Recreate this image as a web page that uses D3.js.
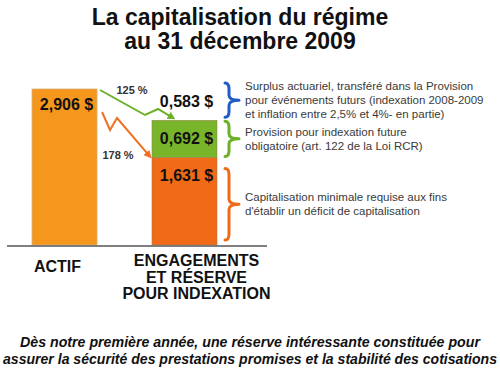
<!DOCTYPE html>
<html>
<head>
<meta charset="utf-8">
<script src="https://cdn.jsdelivr.net/npm/d3@7"></script>
<style>
  body { margin: 0; background: #fff; }
  svg { display: block; font-family: "Liberation Sans", Arial, sans-serif; }
</style>
</head>
<body>
<div id="chart-area"></div>
<script>
// data
var categories = ["ACTIF", "ENGAGEMENTS"];
var actifValue = 2.906;
var actifLabel = "2,906 $";
var segNames = ["minimale", "provision", "surplus"];
var segValues = [1.631, 0.692, 0.583];
var segLabels = ["1,631 $", "0,692 $", "0,583 $"];
var ratioLabels = ["125 %", "178 %"];
var titleLines = ["La capitalisation du régime", "au 31 décembre 2009"];
var catLines = [["ACTIF"], ["ENGAGEMENTS", "ET RÉSERVE", "POUR INDEXATION"]];
var noteLines = [
  ["Capitalisation minimale requise aux fins", "d'établir un déficit de capitalisation"],
  ["Provision pour indexation future", "obligatoire (art. 122 de la Loi RCR)"],
  ["Surplus actuariel, transféré dans la Provision", "pour événements futurs (indexation 2008-2009", "et inflation entre 2,5% et 4%- en partie)"]
];
var footerLines = [
  "Dès notre première année, une réserve intéressante constituée pour",
  "assurer la sécurité des prestations promises et la stabilité des cotisations"
];

var width = 500, height = 379;
var segColors = ["#f06a18", "#79b52a", "none"];
var braceColors = ["#f06a18", "#6cb02a", "#1f5cc8"];
var footerWidths = [460, 494];

var svg = d3.select("#chart-area").append("svg")
  .attr("width", width)
  .attr("height", height);

var x = d3.scaleBand().domain(categories).range([32, 217]).paddingInner(0.458).paddingOuter(0);
var y = d3.scaleLinear().domain([0, actifValue]).range([245, 89]);

// title
svg.append("g").selectAll("text")
  .data(titleLines).enter().append("text")
  .attr("x", 240)
  .attr("y", (d, i) => 25 + i * 24)
  .attr("text-anchor", "middle")
  .attr("font-size", "23px")
  .attr("font-weight", "bold")
  .attr("fill", "#111")
  .text(d => d);

// stacked segments
var stackData = [];
var acc = 0;
segValues.forEach((v, i) => {
  stackData.push({ name: segNames[i], v0: acc, v1: acc + v, label: segLabels[i], color: segColors[i] });
  acc += v;
});

// actif bar
svg.append("rect")
  .attr("x", x("ACTIF"))
  .attr("y", y(actifValue))
  .attr("width", x.bandwidth())
  .attr("height", y(0) - y(actifValue))
  .attr("fill", "#f5971c")
  .attr("stroke", "#d9b27a")
  .attr("stroke-width", 0.8);

svg.append("text")
  .attr("x", x("ACTIF") + x.bandwidth() / 2 + 2)
  .attr("y", y(actifValue) + 21)
  .attr("text-anchor", "middle")
  .attr("font-size", "16px")
  .attr("font-weight", "bold")
  .attr("fill", "#111")
  .text(actifLabel);

svg.append("g").selectAll("rect")
  .data(stackData.filter(d => d.color !== "none")).enter().append("rect")
  .attr("x", x("ENGAGEMENTS"))
  .attr("y", d => y(d.v1))
  .attr("width", x.bandwidth())
  .attr("height", d => y(d.v0) - y(d.v1))
  .attr("fill", d => d.color)
  .attr("stroke", "#9a7a55")
  .attr("stroke-width", 0.5);

svg.append("g").selectAll("text")
  .data(stackData).enter().append("text")
  .attr("x", x("ENGAGEMENTS") + x.bandwidth() / 2 + 2)
  .attr("y", (d, i) => i === 2 ? y(d.v1) + 18 : y(d.v1) + 24)
  .attr("text-anchor", "middle")
  .attr("font-size", "16px")
  .attr("font-weight", "bold")
  .attr("fill", "#111")
  .text(d => d.label);

// baseline
svg.append("line")
  .attr("x1", 7).attr("x2", 267)
  .attr("y1", y(0) + 1).attr("y2", y(0) + 1)
  .attr("stroke", "#555")
  .attr("stroke-width", 1.5);

// category labels
var catG = svg.append("g").selectAll("g")
  .data(categories).enter().append("g");
catG.selectAll("text")
  .data((d, i) => catLines[i].map(t => ({ t: t, c: d, n: catLines[i].length })))
  .enter().append("text")
  .attr("x", d => x(d.c) + x.bandwidth() / 2 + (d.n > 1 ? 12 : -7))
  .attr("y", (d, i) => (d.n > 1 ? 266 : 272) + i * 16.5)
  .attr("text-anchor", "middle")
  .attr("font-size", "16px")
  .attr("font-weight", "bold")
  .attr("fill", "#111")
  .text(d => d.t);

// arrows
var defs = svg.append("defs");
[["g", "#6cb02a"], ["o", "#f07020"]].forEach(function(m) {
  defs.append("marker")
    .attr("id", "head-" + m[0])
    .attr("viewBox", "0 0 10 10")
    .attr("refX", 5).attr("refY", 5)
    .attr("markerWidth", 4).attr("markerHeight", 4)
    .attr("orient", "auto")
    .append("path")
    .attr("d", "M0,0 L10,5 L0,10 z")
    .attr("fill", m[1]);
});

var ax = x("ACTIF") + x.bandwidth();
var ex = x("ENGAGEMENTS");
var lineGen = d3.line();
var total2 = segValues[0] + segValues[1];

var greenPts = [[ax + 3, y(actifValue) + 1], [ax + 48, y(actifValue) + 26], [ax + 61, y(actifValue) + 20], [ex + 20, y(total2) - 3]];
var orangePts = [[ax + 5, y(actifValue) + 23], [ax + 13, y(actifValue) + 41], [ax + 20, y(actifValue) + 29], [ex - 3, y(segValues[0]) - 2]];

svg.append("path")
  .attr("d", lineGen(greenPts))
  .attr("fill", "none")
  .attr("stroke", "#6cb02a")
  .attr("stroke-width", 2)
  .attr("marker-end", "url(#head-g)");
svg.append("path")
  .attr("d", lineGen(orangePts))
  .attr("fill", "none")
  .attr("stroke", "#f07020")
  .attr("stroke-width", 2)
  .attr("marker-end", "url(#head-o)");

svg.append("text")
  .attr("x", ax + 35).attr("y", y(actifValue) + 5)
  .attr("text-anchor", "middle")
  .attr("font-size", "11px").attr("font-weight", "bold").attr("fill", "#333")
  .text(ratioLabels[0]);
svg.append("text")
  .attr("x", ax + 21).attr("y", y(actifValue) + 70)
  .attr("text-anchor", "middle")
  .attr("font-size", "11px").attr("font-weight", "bold").attr("fill", "#333")
  .text(ratioLabels[1]);

// braces and notes
var braceX = 229;
function bracePath(t, b) {
  var m = (t + b) / 2;
  return "M" + (braceX - 4) + "," + t +
    " Q" + braceX + "," + t + " " + braceX + "," + (t + 6) +
    " L" + braceX + "," + (m - 5) +
    " Q" + braceX + "," + m + " " + (braceX + 10) + "," + m +
    " Q" + braceX + "," + m + " " + braceX + "," + (m + 5) +
    " L" + braceX + "," + (b - 6) +
    " Q" + braceX + "," + b + " " + (braceX - 4) + "," + b;
}

// brace ends relative to each segment (top offset, bottom offset)
var braceOffsets = [[11, -5], [1, -1], [-6, -3]];
stackData.forEach(function(d, i) {
  var t = y(d.v1) + braceOffsets[i][0];
  var b = y(d.v0) + braceOffsets[i][1];
  svg.append("path")
    .attr("d", bracePath(t, b))
    .attr("fill", "none")
    .attr("stroke", braceColors[i])
    .attr("stroke-width", 3)
    .attr("stroke-linecap", "round")
    .attr("stroke-linejoin", "round");
  var lines = noteLines[i];
  var m = (t + b) / 2;
  svg.append("g").selectAll("text")
    .data(lines).enter().append("text")
    .attr("x", 245)
    .attr("y", (l, j) => m + 4 + (j - (lines.length - 1) / 2) * 14)
    .attr("font-size", "11.5px")
    .attr("fill", "#3a3a3a")
    .text(l => l);
});

// footer
svg.append("g").selectAll("text")
  .data(footerLines).enter().append("text")
  .attr("x", 250)
  .attr("y", (d, i) => 347 + i * 17)
  .attr("text-anchor", "middle")
  .attr("font-size", "14px")
  .attr("font-weight", "bold")
  .attr("font-style", "italic")
  .attr("fill", "#111")
  .attr("textLength", (d, i) => footerWidths[i])
  .attr("lengthAdjust", "spacingAndGlyphs")
  .text(d => d);
</script>
</body>
</html>
